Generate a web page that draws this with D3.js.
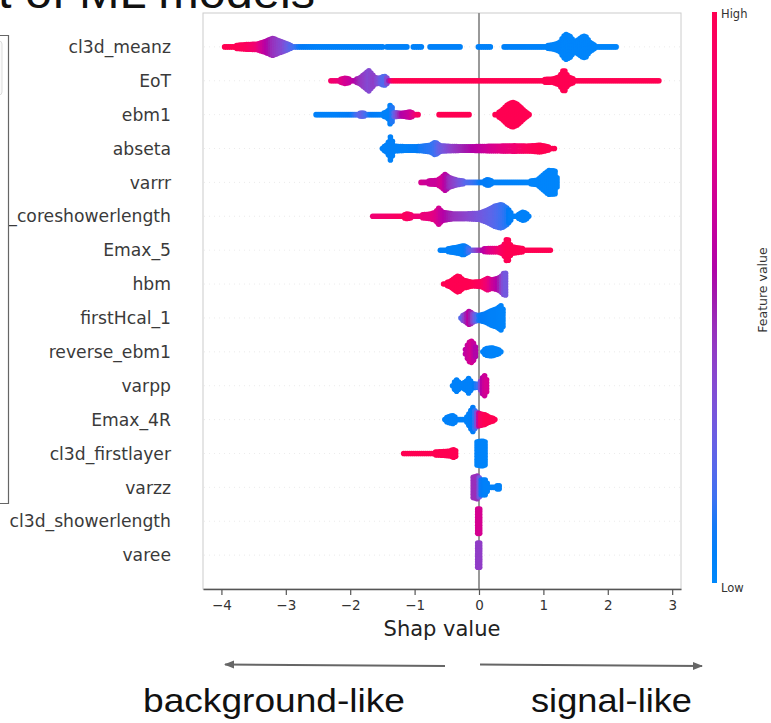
<!DOCTYPE html>
<html>
<head>
<meta charset="utf-8">
<script src="https://cdn.jsdelivr.net/npm/d3@7"></script>
<style>
  html, body { margin: 0; padding: 0; background: #fff; overflow: hidden; }
  text { font-family: "DejaVu Sans", sans-serif; }
</style>
</head>
<body>
<svg id="chart" width="771" height="723"></svg>
<script>
// ---- data -------------------------------------------------------------
// Features, ordered by mean |SHAP| (top to bottom).
const features = [
  "cl3d_meanz", "EoT", "ebm1", "abseta", "varrr", "cl3d_coreshowerlength",
  "Emax_5", "hbm", "firstHcal_1", "reverse_ebm1", "varpp", "Emax_4R",
  "cl3d_firstlayer", "varzz", "cl3d_showerlength", "varee"
];
const xTicks = [-4, -3, -2, -1, 0, 1, 2, 3];

// Swarm profile of every feature: a list of contiguous segments, each a list
// of knots [SHAP value, half-width of the swarm (in rows), feature value 0..1].
const swarm_cl3d_meanz = [
  [[-3.95, 0.08, 1.0], [-3.8, 0.12, 1.0], [-3.6, 0.15, 0.95], [-3.45, 0.16, 0.85],
   [-3.35, 0.22, 0.65], [-3.2, 0.33, 0.45], [-3.05, 0.22, 0.35], [-2.92, 0.12, 0.2],
   [-2.8, 0.1, 0.1], [-2.5, 0.09, 0.05], [-1.49, 0.08, 0.05]],
  [[-1.43, 0.08, 0.05], [-1.09, 0.08, 0.05]],
  [[-1.02, 0.08, 0.05], [-0.89, 0.08, 0.05]],
  [[-0.76, 0.08, 0.05], [-0.29, 0.08, 0.05]],
  [[-0.01, 0.08, 0.05], [0.2, 0.08, 0.05]],
  [[0.39, 0.08, 0.05], [0.95, 0.1, 0.04], [1.15, 0.14, 0.03], [1.25, 0.2, 0.03],
   [1.31, 0.38, 0.02], [1.35, 0.45, 0.02], [1.42, 0.38, 0.02], [1.48, 0.22, 0.02],
   [1.55, 0.3, 0.02], [1.62, 0.4, 0.02], [1.66, 0.38, 0.02], [1.72, 0.22, 0.02],
   [1.8, 0.12, 0.02], [1.95, 0.1, 0.02], [2.16, 0.08, 0.02]]
];
const swarm_EoT = [
  [[-2.3, 0.08, 0.9], [-2.2, 0.1, 0.85], [-2.08, 0.16, 0.7], [-1.95, 0.1, 0.6],
   [-1.85, 0.16, 0.45], [-1.71, 0.38, 0.35], [-1.62, 0.18, 0.4], [-1.55, 0.15, 0.3],
   [-1.47, 0.22, 0.15], [-1.4, 0.12, 0.5], [-1.33, 0.08, 1.0], [0.2, 0.08, 1.0],
   [0.7, 0.09, 1.0], [0.85, 0.11, 1.0], [1.15, 0.13, 1.0], [1.25, 0.2, 1.0],
   [1.32, 0.42, 1.0], [1.38, 0.2, 1.0], [1.5, 0.11, 1.0], [1.8, 0.09, 1.0],
   [2.4, 0.08, 1.0], [2.81, 0.07, 1.0]]
];
const swarm_ebm1 = [
  [[-2.53, 0.07, 0.05], [-2.2, 0.08, 0.05], [-1.95, 0.1, 0.1], [-1.82, 0.13, 0.25],
   [-1.7, 0.1, 0.1], [-1.5, 0.12, 0.05], [-1.42, 0.16, 0.05], [-1.37, 0.4, 0.05],
   [-1.32, 0.14, 0.2], [-1.2, 0.12, 0.55], [-1.07, 0.16, 0.65], [-0.98, 0.1, 0.85],
   [-0.94, 0.07, 0.95]],
  [[-0.62, 0.07, 1.0], [-0.14, 0.07, 1.0]],
  [[0.25, 0.07, 1.0], [0.35, 0.2, 1.0], [0.45, 0.38, 1.0], [0.52, 0.45, 1.0],
   [0.6, 0.38, 1.0], [0.7, 0.2, 1.0], [0.79, 0.07, 1.0]]
];
const swarm_abseta = [
  [[-1.5, 0.1, 0.05], [-1.42, 0.2, 0.05], [-1.37, 0.45, 0.05], [-1.32, 0.15, 0.05],
   [-1.1, 0.13, 0.05], [-0.9, 0.14, 0.1], [-0.75, 0.18, 0.12], [-0.68, 0.27, 0.15],
   [-0.6, 0.16, 0.25], [-0.4, 0.14, 0.4], [-0.2, 0.13, 0.5], [0.0, 0.14, 0.6],
   [0.3, 0.15, 0.75], [0.55, 0.16, 0.85], [0.75, 0.15, 0.95], [0.95, 0.18, 1.0],
   [1.05, 0.14, 1.0], [1.18, 0.08, 1.0]]
];
const swarm_varrr = [
  [[-0.9, 0.08, 0.7], [-0.8, 0.12, 0.65], [-0.65, 0.14, 0.65], [-0.58, 0.22, 0.7],
   [-0.53, 0.32, 0.6], [-0.46, 0.22, 0.45], [-0.35, 0.15, 0.35], [-0.2, 0.11, 0.2],
   [0.0, 0.1, 0.1], [0.08, 0.12, 0.08], [0.14, 0.17, 0.08], [0.22, 0.1, 0.05],
   [0.7, 0.1, 0.03], [0.9, 0.14, 0.02], [1.0, 0.3, 0.02], [1.08, 0.43, 0.02],
   [1.18, 0.42, 0.02], [1.23, 0.1, 0.02]]
];
const swarm_cl3d_coreshowerlength = [
  [[-1.65, 0.06, 0.85], [-1.4, 0.08, 0.9], [-1.2, 0.1, 0.95], [-1.12, 0.15, 0.95],
   [-1.0, 0.1, 0.85], [-0.75, 0.15, 0.8], [-0.67, 0.2, 0.75], [-0.63, 0.33, 0.7],
   [-0.57, 0.2, 0.6], [-0.4, 0.15, 0.45], [-0.2, 0.15, 0.38], [0.0, 0.17, 0.3],
   [0.12, 0.25, 0.25], [0.25, 0.38, 0.2], [0.35, 0.43, 0.15], [0.45, 0.3, 0.1],
   [0.52, 0.12, 0.05], [0.6, 0.12, 0.05], [0.69, 0.21, 0.05], [0.8, 0.08, 0.05]]
];
const swarm_Emax_5 = [
  [[-0.6, 0.08, 0.05], [-0.45, 0.13, 0.05], [-0.3, 0.18, 0.05], [-0.24, 0.22, 0.05],
   [-0.15, 0.12, 0.15], [0.0, 0.11, 0.45], [0.15, 0.13, 0.7], [0.3, 0.13, 0.85],
   [0.38, 0.2, 0.95], [0.44, 0.45, 1.0], [0.5, 0.18, 1.0], [0.7, 0.12, 1.0],
   [0.95, 0.1, 1.0], [1.13, 0.07, 1.0]]
];
const swarm_hbm = [
  [[-0.55, 0.1, 1.0], [-0.45, 0.15, 1.0], [-0.38, 0.25, 1.0], [-0.32, 0.33, 1.0],
   [-0.25, 0.2, 1.0], [-0.1, 0.13, 1.0], [0.05, 0.16, 0.95], [0.13, 0.25, 0.85],
   [0.2, 0.2, 0.7], [0.3, 0.25, 0.55], [0.37, 0.35, 0.35], [0.4, 0.45, 0.3],
   [0.44, 0.3, 0.25]]
];
const swarm_firstHcal_1 = [
  [[-0.28, 0.12, 0.2], [-0.2, 0.2, 0.45], [-0.15, 0.28, 0.6], [-0.08, 0.18, 0.3],
   [0.0, 0.15, 0.1], [0.1, 0.2, 0.08], [0.2, 0.3, 0.05], [0.28, 0.35, 0.05],
   [0.35, 0.45, 0.03], [0.38, 0.3, 0.03]]
];
const swarm_reverse_ebm1 = [
  [[-0.21, 0.15, 0.6], [-0.16, 0.35, 0.65], [-0.12, 0.4, 0.7], [-0.07, 0.3, 0.6],
   [-0.04, 0.15, 0.5]],
  [[0.06, 0.12, 0.05], [0.12, 0.18, 0.05], [0.2, 0.2, 0.03], [0.3, 0.14, 0.03],
   [0.35, 0.1, 0.03]]
];
const swarm_varpp = [
  [[-0.41, 0.12, 0.05], [-0.35, 0.25, 0.05], [-0.28, 0.12, 0.05], [-0.2, 0.2, 0.05],
   [-0.16, 0.3, 0.05], [-0.1, 0.14, 0.05], [0.0, 0.12, 0.15], [0.05, 0.3, 0.55],
   [0.08, 0.4, 0.65], [0.12, 0.25, 0.7]]
];
const swarm_Emax_4R = [
  [[-0.53, 0.12, 0.05], [-0.45, 0.18, 0.05], [-0.4, 0.2, 0.05], [-0.35, 0.12, 0.05],
   [-0.2, 0.12, 0.05], [-0.14, 0.3, 0.05], [-0.1, 0.45, 0.08], [-0.05, 0.3, 0.15],
   [0.02, 0.25, 0.9], [0.1, 0.22, 1.0], [0.16, 0.15, 1.0], [0.22, 0.12, 1.0],
   [0.27, 0.08, 1.0]]
];
const swarm_cl3d_firstlayer = [
  [[-1.17, 0.08, 1.0], [-0.9, 0.1, 1.0], [-0.6, 0.13, 1.0], [-0.45, 0.15, 1.0],
   [-0.4, 0.2, 1.0], [-0.35, 0.15, 1.0]],
  [[-0.03, 0.42, 0.03], [0.05, 0.45, 0.03], [0.12, 0.4, 0.03]]
];
const swarm_varzz = [
  [[-0.09, 0.38, 0.45], [-0.02, 0.42, 0.45], [0.03, 0.3, 0.1], [0.1, 0.3, 0.05],
   [0.15, 0.12, 0.05], [0.25, 0.1, 0.05], [0.3, 0.14, 0.05], [0.34, 0.1, 0.05]]
];
const swarm_cl3d_showerlength = [
  [[-0.02, 0.44, 0.7], [0.03, 0.44, 0.7]]
];
const swarm_varee = [
  [[-0.02, 0.44, 0.4], [0.03, 0.44, 0.4]]
];
const swarms = [
  swarm_cl3d_meanz, swarm_EoT, swarm_ebm1, swarm_abseta, swarm_varrr,
  swarm_cl3d_coreshowerlength, swarm_Emax_5, swarm_hbm, swarm_firstHcal_1,
  swarm_reverse_ebm1, swarm_varpp, swarm_Emax_4R, swarm_cl3d_firstlayer,
  swarm_varzz, swarm_cl3d_showerlength, swarm_varee
];

// ---- colour map (blue -> purple -> red, interpolated in LCh) -----------
function featureColor(t) {
  const L = t < 0.5 ? 54 - 14 * (t / 0.5) : 40 + 14 * ((t - 0.5) / 0.5);
  const C = 70 + 20 * t;
  const H = 266.93 + (380.32 - 266.93) * t;
  return d3.hcl(H % 360, C, L).formatHex();
}

// ---- layout -----------------------------------------------------------
const svg = d3.select("#chart");
const plot = { left: 203, right: 681, top: 13, bottom: 589 };

const x = d3.scaleLinear().domain([-4.286, 3.137]).range([plot.left, plot.right]);
const y = d3.scaleLinear().domain([-1, features.length]).range([plot.top, plot.bottom]);
const rowPx = y(1) - y(0);

// slide title (partly outside the view)
svg.append("text")
  .attr("x", -2).attr("y", 8)
  .attr("textLength", 317).attr("lengthAdjust", "spacingAndGlyphs")
  .style("font-family", "'Liberation Sans', Arial, sans-serif")
  .style("font-size", "46px").attr("fill", "#111")
  .text("t of ML models");

// plot frame
svg.append("rect")
  .attr("x", plot.left).attr("y", plot.top)
  .attr("width", plot.right - plot.left).attr("height", plot.bottom - plot.top)
  .attr("fill", "none").attr("stroke", "#cccccc").attr("stroke-width", 1);

// row guide lines
svg.append("g").selectAll("line").data(features).join("line")
  .attr("x1", plot.left + 1).attr("x2", plot.right - 1)
  .attr("y1", (d, i) => y(i)).attr("y2", (d, i) => y(i))
  .attr("stroke", "#dddddd").attr("stroke-width", 0.6)
  .attr("stroke-dasharray", "1 4");

// zero line
svg.append("line")
  .attr("x1", x(0)).attr("x2", x(0))
  .attr("y1", plot.top).attr("y2", plot.bottom)
  .attr("stroke", "#999999").attr("stroke-width", 2);

// ---- swarm dots -------------------------------------------------------
const r = 2.8, colStep = 2, dotStep = 2.6;
const dots = [];
swarms.forEach((segments, i) => {
  segments.forEach(knots => {
    const x0 = x(knots[0][0]);
    const x1 = x(knots[knots.length - 1][0]);
    for (let px = x0; px <= x1 + 0.01; px += colStep) {
      const v = x.invert(px);
      let k = 0;
      while (k < knots.length - 2 && knots[k + 1][0] < v) k++;
      const a = knots[k], b = knots[Math.min(k + 1, knots.length - 1)];
      const f = b[0] === a[0] ? 0 : Math.max(0, Math.min(1, (v - a[0]) / (b[0] - a[0])));
      const h = a[1] + (b[1] - a[1]) * f;
      const c = a[2] + (b[2] - a[2]) * f;
      const inner = Math.max(0, h * rowPx - r);
      const n = Math.floor((2 * inner) / dotStep) + 1;
      for (let j = 0; j < n; j++) {
        const off = n === 1 ? 0 : -inner + (2 * inner * j) / (n - 1);
        dots.push({ v, row: i + off / rowPx, c });
      }
    }
  });
});

svg.append("g").selectAll("circle").data(dots).join("circle")
  .attr("cx", d => x(d.v))
  .attr("cy", d => y(d.row))
  .attr("r", r)
  .attr("fill", d => featureColor(d.c));

// ---- axes -------------------------------------------------------------
const xAxis = svg.append("g")
  .attr("transform", `translate(0,${plot.bottom})`)
  .call(d3.axisBottom(x).tickValues(xTicks).tickSize(6).tickSizeOuter(0).tickPadding(5));
xAxis.select(".domain").attr("stroke", "#555").attr("stroke-width", 1.3);
xAxis.selectAll(".tick line").attr("stroke", "#555").attr("stroke-width", 1.2);
xAxis.selectAll(".tick text")
  .style("font-family", "'DejaVu Sans', sans-serif")
  .style("font-size", "13.5px").attr("fill", "#333");

svg.append("text")
  .attr("x", (plot.left + plot.right) / 2).attr("y", 636)
  .attr("text-anchor", "middle")
  .style("font-size", "21px").attr("fill", "#222")
  .text("Shap value");

// feature names
svg.append("g").selectAll("text").data(features).join("text")
  .attr("x", 171).attr("y", (d, i) => y(i))
  .attr("dy", "0.36em")
  .attr("text-anchor", "end")
  .style("font-size", "17.2px").attr("fill", "#3a3a3a")
  .text(d => d);

// ---- colour bar ---------------------------------------------------------
const defs = svg.append("defs");
const grad = defs.append("linearGradient")
  .attr("id", "fv-grad").attr("x1", 0).attr("y1", 1).attr("x2", 0).attr("y2", 0);
d3.range(0, 1.0001, 0.05).forEach(t => {
  grad.append("stop").attr("offset", t).attr("stop-color", featureColor(t));
});
svg.append("rect")
  .attr("x", 712).attr("y", 12).attr("width", 5).attr("height", 571)
  .attr("fill", "url(#fv-grad)");
svg.append("text").attr("x", 721).attr("y", 18)
  .style("font-size", "11.5px").attr("fill", "#333").text("High");
svg.append("text").attr("x", 721).attr("y", 592)
  .style("font-size", "11.5px").attr("fill", "#333").text("Low");
svg.append("text")
  .attr("transform", "translate(767,290) rotate(-90)")
  .attr("text-anchor", "middle")
  .style("font-size", "12.5px").attr("fill", "#333")
  .text("Feature value");

// ---- side panel edge on the left -------------------------------------------
svg.append("rect").attr("x", 0).attr("y", 35).attr("width", 8.5).attr("height", 468)
  .attr("fill", "#fff");
svg.append("rect").attr("x", -6).attr("y", 41).attr("width", 8).attr("height", 54)
  .attr("rx", 3).attr("fill", "#fafafa").attr("stroke", "#dddddd");
svg.append("path").attr("d", "M0,35.5H8.5V503.5H0")
  .attr("fill", "none").attr("stroke", "#666").attr("stroke-width", 1.2);

// ---- direction arrows --------------------------------------------------
defs.append("marker")
  .attr("id", "arrowhead").attr("viewBox", "0 0 10 10")
  .attr("refX", 9).attr("refY", 5)
  .attr("markerWidth", 5).attr("markerHeight", 5)
  .attr("orient", "auto")
  .append("path").attr("d", "M0,1L10,5L0,9z").attr("fill", "#666");

svg.append("line")
  .attr("x1", 445).attr("y1", 666).attr("x2", 225).attr("y2", 664.5)
  .attr("stroke", "#666").attr("stroke-width", 2).attr("marker-end", "url(#arrowhead)");
svg.append("line")
  .attr("x1", 480).attr("y1", 664.5).attr("x2", 702).attr("y2", 666)
  .attr("stroke", "#666").attr("stroke-width", 2).attr("marker-end", "url(#arrowhead)");

svg.append("text")
  .attr("x", 143).attr("y", 712)
  .attr("textLength", 262).attr("lengthAdjust", "spacingAndGlyphs")
  .style("font-family", "'Liberation Sans', Arial, sans-serif")
  .style("font-size", "34px").attr("fill", "#111")
  .text("background-like");
svg.append("text")
  .attr("x", 531).attr("y", 712)
  .attr("textLength", 161).attr("lengthAdjust", "spacingAndGlyphs")
  .style("font-family", "'Liberation Sans', Arial, sans-serif")
  .style("font-size", "34px").attr("fill", "#111")
  .text("signal-like");
</script>
</body>
</html>
